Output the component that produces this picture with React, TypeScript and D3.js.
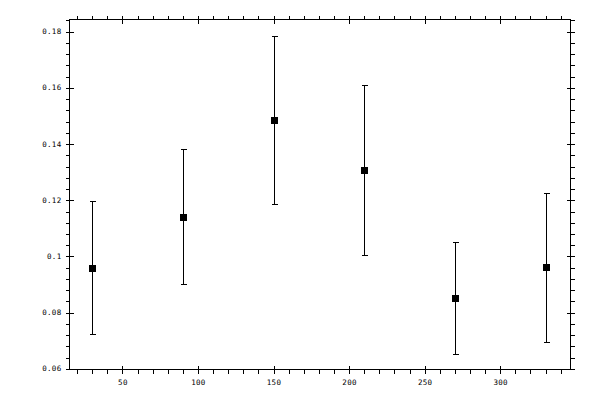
import React from "react";
import * as d3 from "d3";

const xs = [30, 90, 150, 210, 270, 330];
const means = [0.096, 0.1142, 0.1487, 0.1309, 0.0853, 0.0964];
const uppers = [0.1199, 0.1384, 0.1786, 0.1611, 0.1053, 0.1227];
const lowers = [0.0725, 0.0903, 0.1188, 0.1006, 0.0654, 0.0697];

const xMajor = [50, 100, 150, 200, 250, 300];
const xMajorLabels = ["50", "100", "150", "200", "250", "300"];
const xMinor = d3.range(20, 341, 10);
const yMajor = [0.06, 0.08, 0.1, 0.12, 0.14, 0.16, 0.18];
const yMajorLabels = ["0.06", "0.08", "0.1", "0.12", "0.14", "0.16", "0.18"];
const yMinor = d3.range(0, 32).map((i) => 0.06 + i * 0.004);

const W = 600;
const H = 400;
const L = 69.5, R = 570.5, T = 19.5, B = 369.5;

export default function App() {
  const x = d3.scaleLinear().domain([15, 346.5]).range([L, R]);
  const y = d3.scaleLinear().domain([0.0598, 0.1843]).range([B, T]);
  const font = { fontFamily: "'DejaVu Sans Mono', monospace", fontSize: 7.5, letterSpacing: 0.3 };
  const isMajorX = (v: number) => xMajor.some((m) => Math.abs(m - v) < 1e-6);
  const isMajorY = (v: number) => yMajor.some((m) => Math.abs(m - v) < 1e-6);
  return (
    <svg width={W} height={H} style={{ position: "absolute", left: 0, top: 0, background: "#fff" }}>
      <g stroke="#000" strokeWidth={1} shapeRendering="crispEdges" fill="none">
        <rect x={L} y={T} width={R - L} height={B - T} />
        {xMinor.filter((v) => !isMajorX(v) && x(v) < R).map((v) => (
          <g key={"xm" + v}>
            <line x1={Math.round(x(v)) + 0.5} x2={Math.round(x(v)) + 0.5} y1={B} y2={B + 4} />
            <line x1={Math.round(x(v)) + 0.5} x2={Math.round(x(v)) + 0.5} y1={T} y2={T - 4} />
          </g>
        ))}
        {xMajor.map((v) => (
          <g key={"xM" + v}>
            <line x1={Math.round(x(v)) + 0.5} x2={Math.round(x(v)) + 0.5} y1={B - 4} y2={B + 4} />
            <line x1={Math.round(x(v)) + 0.5} x2={Math.round(x(v)) + 0.5} y1={T - 4} y2={T + 4} />
          </g>
        ))}
        {yMinor.filter((v) => !isMajorY(v) && y(v) > T).map((v) => (
          <g key={"ym" + v}>
            <line x1={L} x2={L - 4} y1={Math.round(y(v)) + 0.5} y2={Math.round(y(v)) + 0.5} />
            <line x1={R} x2={R + 4} y1={Math.round(y(v)) + 0.5} y2={Math.round(y(v)) + 0.5} />
          </g>
        ))}
        {yMajor.map((v) => (
          <g key={"yM" + v}>
            <line x1={L - 4} x2={L + 4} y1={Math.round(y(v)) + 0.5} y2={Math.round(y(v)) + 0.5} />
            <line x1={R - 4} x2={R + 4} y1={Math.round(y(v)) + 0.5} y2={Math.round(y(v)) + 0.5} />
          </g>
        ))}
        {xs.map((v, i) => {
          const cx = Math.round(x(v)) + 0.5;
          const yt = Math.round(y(uppers[i])) + 0.5;
          const yb = Math.round(y(lowers[i])) + 0.5;
          return (
            <g key={"e" + i}>
              <line x1={cx} x2={cx} y1={yt} y2={yb} />
              <line x1={cx - 2.5} x2={cx + 3.5} y1={yt} y2={yt} />
              <line x1={cx - 2.5} x2={cx + 3.5} y1={yb} y2={yb} />
            </g>
          );
        })}
      </g>
      <g fill="#000" shapeRendering="crispEdges">
        {xs.map((v, i) => (
          <rect key={"p" + i} x={Math.round(x(v)) - 3} y={Math.round(y(means[i])) - 3} width={7} height={7} />
        ))}
      </g>
      <g fill="#000" style={font}>
        {yMajor.map((v, i) => (
          <text key={"yl" + v} x={61.5} y={y(v)} textAnchor="end" dominantBaseline="central">
            {yMajorLabels[i]}
          </text>
        ))}
        {xMajor.map((v, i) => (
          <text key={"xl" + v} x={x(v) + 0.5} y={384.5} textAnchor="middle">
            {xMajorLabels[i]}
          </text>
        ))}
      </g>
    </svg>
  );
}
